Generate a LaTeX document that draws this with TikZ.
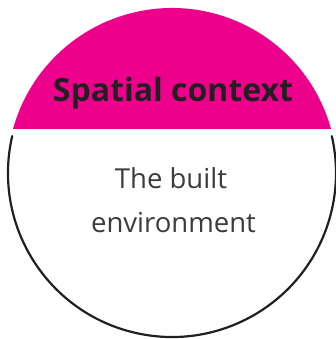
\documentclass[tikz,border=0pt]{standalone}
\usepackage{fontspec}
\newfontfamily\labelfont{Open Sans}
\definecolor{spatialpink}{HTML}{EC008C}
\definecolor{titleink}{HTML}{231F20}
\definecolor{bodyink}{HTML}{3C3C3C}
\tikzset{
	titletext/.style={font=\labelfont\bfseries\fontsize{32}{38}\selectfont, text=titleink, inner sep=0pt, anchor=base},
	bodytext/.style={font=\labelfont\fontsize{27.5}{44}\selectfont, text=bodyink, inner sep=0pt, anchor=base},
	rim/.style={line width=2.2pt, line cap=round, color=titleink}
}
\begin{document}
\begin{tikzpicture}[x=1pt, y=1pt]
	\useasboundingbox (0,0) rectangle (336,-339);
	\coordinate (c) at (172,-173);
	% pink cap above the chord
	\fill[spatialpink] ([shift={(15.5:165pt)}]c) arc[start angle=15.5, end angle=164.5, radius=165pt] -- cycle;
	% lower rim
	\draw[rim] ([shift={(167:164pt)}]c) arc[start angle=167, end angle=373, radius=164pt];
	
	\node[titletext] (title) at (173,-101.5) {Spatial context};
	\node[bodytext] (built) at (171,-188) {The built};
	\node[bodytext] (env) at (173.5,-232) {environment};
\end{tikzpicture}
\end{document}
